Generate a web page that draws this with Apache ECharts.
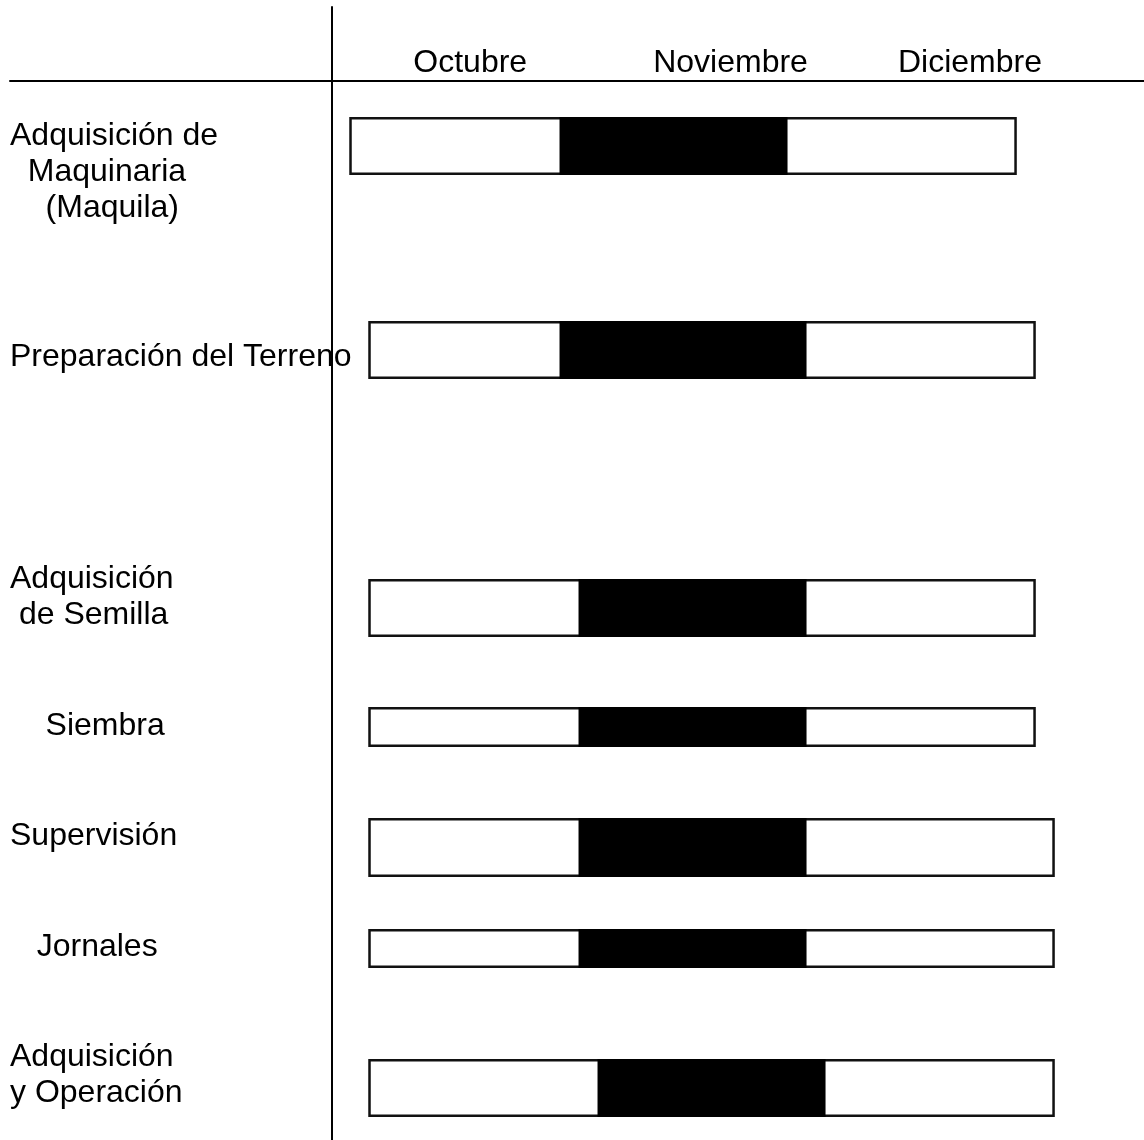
<!DOCTYPE html>
<html><head><meta charset="utf-8">
<script src="https://cdn.jsdelivr.net/npm/echarts@6/dist/echarts.min.js"></script>
<style>html,body{margin:0;padding:0;background:#fff}#c{width:1144px;height:1140px}</style>
</head><body><div id="c"></div>
<script>
// ---- data (x in weeks from the axis, y in row-scale units) ----
const tasks = ['Adquisición de\n  Maquinaria\n    (Maquila)', 'Preparación del Terreno', 'Adquisición\n de Semilla', '    Siembra', 'Supervisión', '   Jornales', 'Adquisición\ny Operación'];
const rowY = [6.5, 26.9, 52.7, 64.6, 76.65, 86.75, 100.7];
const startWeek = [1, 2, 2, 2, 2, 2, 2];
const activeStart = [12, 12, 13, 13, 13, 13, 14];
const activeEnd = [24, 25, 25, 25, 25, 25, 26];
const endWeek = [36, 37, 37, 37, 38, 38, 38];
const months = ['Octubre', 'Noviembre', 'Diciembre'];
const monthPos = [7.3, 21, 33.6];
const labelY = [8.9, 27.4, 51.45, 64.3, 75.3, 86.4, 99.25];

// ---- layout / style ----
const barThick = [58, 58, 58, 40, 59, 39, 58];
const FONT = 'Liberation Sans';
const LABEL_X = 10;        // px, left edge of row labels
const LABEL_DY = 2;        // px, vertical nudge for row labels
const MONTH_DY = -17.5;    // px, month label centre above axis line

const chart = echarts.init(document.getElementById('c'), null, { renderer: 'canvas' });
chart.setOption({
  animation: false,
  backgroundColor: '#fff',
  grid: { left: 10, right: 0, top: 7, bottom: 0, containLabel: false, outerBoundsMode: 'none' },
  xAxis: {
    type: 'value', min: -16.92, max: 42.76, position: 'top',
    axisLine: { onZero: true, lineStyle: { color: '#000', width: 2 } },
    axisTick: { show: false }, splitLine: { show: false }, axisLabel: { show: false }
  },
  yAxis: {
    type: 'value', inverse: true, min: -7.4, max: 105.9,
    axisLine: { onZero: true, lineStyle: { color: '#000', width: 2 } },
    axisTick: { show: false }, splitLine: { show: false }, axisLabel: { show: false }
  },
  series: [{
    type: 'custom', clip: false, z: 2,
    encode: { x: [1, 2, 3, 4], y: 0 },
    data: rowY.map((y, i) => [y, startWeek[i], activeStart[i], activeEnd[i], endWeek[i]]),
    renderItem(params, api) {
      const i = params.dataIndex;
      const y = api.value(0);
      const p0 = api.coord([api.value(1), y]);
      const p1 = api.coord([api.value(2), y]);
      const p2 = api.coord([api.value(3), y]);
      const p3 = api.coord([api.value(4), y]);
      const h = barThick[i], sw = 2.5;
      return { type: 'group', children: [
        { type: 'rect', shape: { x: p0[0], y: p0[1] - h / 2 + sw / 2, width: p3[0] - p0[0], height: h - sw }, style: { fill: '#fff', stroke: '#111', lineWidth: sw } },
        { type: 'rect', shape: { x: p1[0], y: p0[1] - h / 2, width: p2[0] - p1[0], height: h }, style: { fill: '#000' } }
      ] };
    }
  }, {
    type: 'custom', clip: false, z: 1,
    encode: { x: 0, y: 1 },
    data: labelY.map((y, i) => [0, y]),
    renderItem(params, api) {
      const p = api.coord([0, api.value(1)]);
      return { type: 'text', x: LABEL_X, y: p[1] + LABEL_DY, style: { text: tasks[params.dataIndex], fill: '#000', font: '32px "' + FONT + '"', lineHeight: 36, align: 'left', verticalAlign: 'middle' } };
    }
  }, {
    type: 'custom', clip: false, z: 1,
    encode: { x: 0, y: 1 },
    data: monthPos.map(x => [x, 0]),
    renderItem(params, api) {
      const p = api.coord([api.value(0), 0]);
      return { type: 'text', x: p[0], y: p[1] + MONTH_DY, style: { text: months[params.dataIndex], fill: '#000', font: '32px "' + FONT + '"', align: 'center', verticalAlign: 'middle' } };
    }
  }]
});
</script></body></html>
